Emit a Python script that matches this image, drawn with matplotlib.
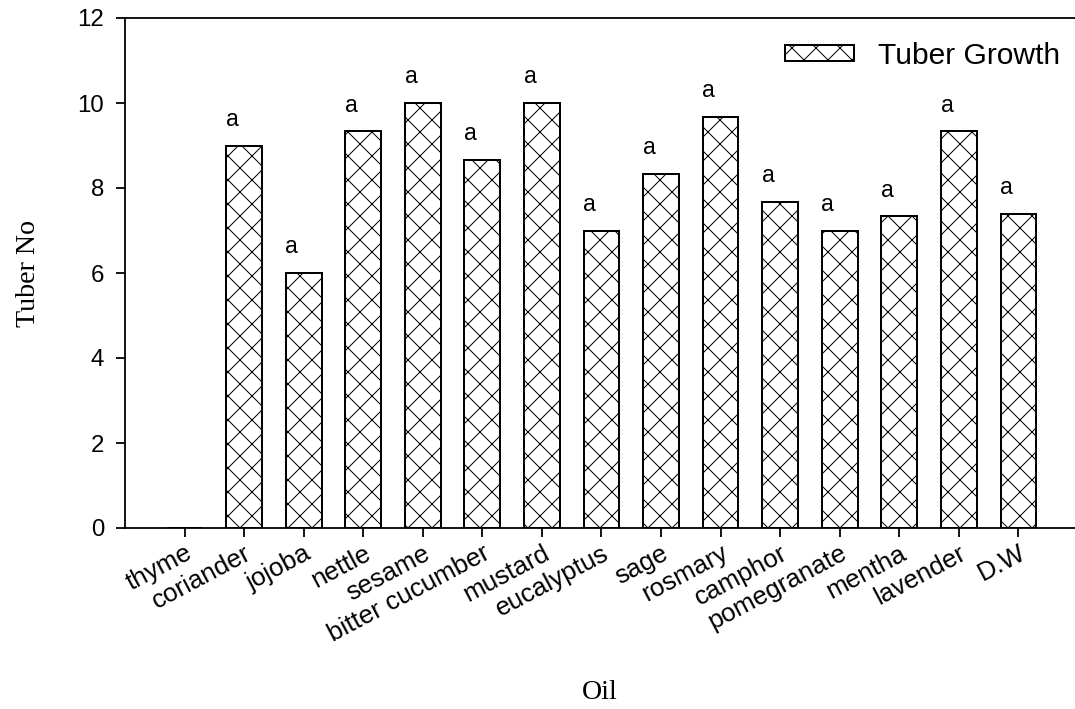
import numpy as np
import matplotlib
matplotlib.use("Agg")
import matplotlib.pyplot as plt

# Data
oils = ["thyme", "coriander", "jojoba", "nettle", "sesame", "bitter cucumber",
        "mustard", "eucalyptus", "sage", "rosmary", "camphor", "pomegranate",
        "mentha", "lavender", "D.W"]
tuber_no = [0.0, 9.0, 6.0, 9.33, 10.0, 8.67, 10.0, 7.0, 8.33, 9.67, 7.67,
            7.0, 7.33, 9.33, 7.4]
letters = ["", "a", "a", "a", "a", "a", "a", "a", "a", "a", "a", "a", "a",
           "a", "a"]
yticks = [0, 2, 4, 6, 8, 10, 12]

plt.rcParams["hatch.linewidth"] = 1.0
sans = "Liberation Sans"
serif = "Liberation Serif"

# dpi 72 so one point is one pixel (and the hatch spacing matches)
fig = plt.figure(figsize=(1075 / 72, 709 / 72), dpi=72)
ax = fig.add_axes([125 / 1075, 1 - 528 / 709, 950 / 1075, 510 / 709])

x = np.arange(len(oils))
bars = ax.bar(x, tuber_no, width=0.6, color="white", edgecolor="black",
              hatch="x", linewidth=2, label="Tuber Growth", zorder=2)

# significance letters above the bars
for xi, h, s in zip(x, tuber_no, letters):
    if s:
        ax.text(xi - 0.2, h + 0.35, s, fontsize=23, family=sans,
                ha="center", va="bottom")

ax.set_xlim(-1, 14.95)
ax.set_ylim(0, 12)
ax.set_yticks(yticks)
ax.set_yticklabels([str(t) for t in yticks], fontsize=24, family=sans)
ax.set_xticks(x)
ax.set_xticklabels(oils, fontsize=26, family=sans, rotation=28,
                   ha="right", va="top", rotation_mode="anchor")
ax.tick_params(axis="both", direction="out", length=9, width=1.8)
ax.tick_params(axis="y", pad=12)
ax.tick_params(axis="x", pad=4)

for side in ["left", "bottom", "top"]:
    ax.spines[side].set_linewidth(1.8)
ax.spines["right"].set_visible(False)

ax.set_xlabel("Oil", fontsize=28, family=serif)
ax.xaxis.label.set_va("baseline")
ax.xaxis.set_label_coords(0.5, -0.335)
ax.set_ylabel("Tuber No", fontsize=28, family=serif)
ax.yaxis.label.set_va("center")
ax.yaxis.set_label_coords(-0.102, 0.5)

ax.legend(loc="center left", bbox_to_anchor=((785 - 125) / 950, (528 - 56) / 510),
          frameon=False, prop={"family": sans, "size": 30},
          handlelength=2.3, handleheight=0.45, handletextpad=0.8,
          borderpad=0, borderaxespad=0)

fig.savefig("out.png", dpi=72)
